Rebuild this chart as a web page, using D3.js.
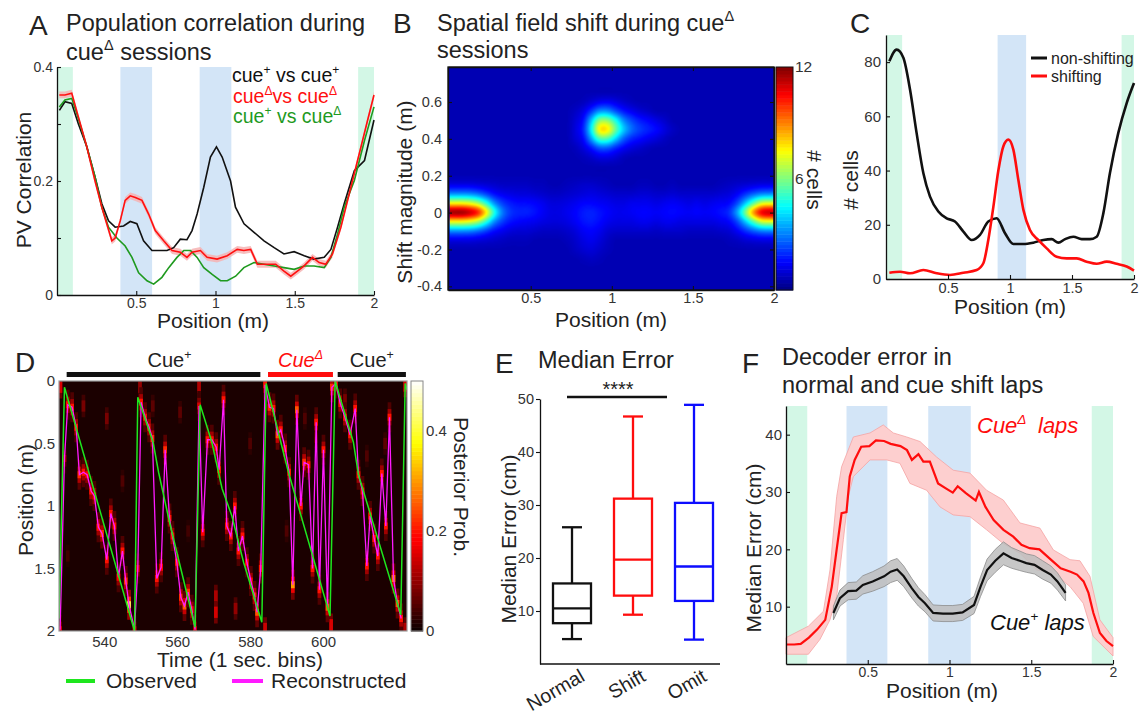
<!DOCTYPE html>
<html>
<head>
<meta charset="utf-8">
<title>Cue manipulation: place-cell remapping and decoding</title>
<script src="https://cdn.jsdelivr.net/npm/d3@7/dist/d3.min.js"></script>
<style>
  html, body { margin: 0; padding: 0; background: #fff; }
  svg { display: block; }
</style>
</head>
<body>
<svg id="fig" width="1139" height="715"></svg>
<script>
// ======================= DATA =======================

// Cue zones along the 2 m track (m)
const rewardZones = [[0, 0.1], [1.9, 2]];
const cueZones = [[0.4, 0.6], [0.9, 1.1]];

// A: population-vector correlation vs position
const pvTicks = [0, 0.1, 0.2, 0.3, 0.4];
const pvTickLabels = ["0", "", "0.2", "", "0.4"];
const pvSamePos = [0.015,0.05,0.093,0.135,0.188,0.24,0.283,0.325,0.367,0.42,0.462,0.504,0.546,0.599,0.652,0.694,0.736,0.778,0.82,0.852,0.884,0.926,0.968,1.006,1.042,1.095,1.126,1.18,1.243,1.306,1.37,1.432,1.496,1.56,1.62,1.686,1.728,1.77,1.812,1.876,1.94,2.0];
const pvSameVal = [0.324,0.339,0.336,0.30,0.26,0.207,0.16,0.13,0.119,0.121,0.129,0.125,0.095,0.078,0.078,0.078,0.083,0.098,0.097,0.113,0.142,0.189,0.242,0.26,0.242,0.2,0.154,0.125,0.11,0.095,0.083,0.072,0.076,0.069,0.063,0.066,0.08,0.119,0.16,0.218,0.236,0.307];
const pvDeltaPos = [0.0146,0.05,0.093,0.135,0.188,0.24,0.283,0.314,0.346,0.367,0.399,0.43,0.462,0.494,0.536,0.578,0.62,0.673,0.726,0.778,0.82,0.852,0.905,0.947,1.01,1.074,1.137,1.179,1.222,1.264,1.327,1.38,1.432,1.475,1.517,1.559,1.612,1.654,1.696,1.738,1.791,1.854,1.918,1.96,2.0];
const pvDeltaVal = [0.351,0.351,0.354,0.312,0.26,0.2,0.154,0.125,0.095,0.1,0.13,0.166,0.174,0.171,0.166,0.142,0.113,0.095,0.078,0.075,0.066,0.075,0.078,0.066,0.063,0.069,0.08,0.078,0.08,0.054,0.054,0.054,0.042,0.033,0.042,0.051,0.066,0.057,0.054,0.072,0.119,0.189,0.26,0.307,0.351];
const pvDeltaSem = 0.006;
const pvCrossPos = [0.0146,0.05,0.093,0.135,0.188,0.24,0.283,0.325,0.378,0.43,0.473,0.515,0.568,0.61,0.662,0.705,0.757,0.8,0.842,0.884,0.926,0.979,1.032,1.074,1.127,1.179,1.243,1.306,1.37,1.432,1.496,1.56,1.622,1.686,1.728,1.77,1.812,1.876,1.94,2.0];
const pvCrossVal = [0.33,0.342,0.345,0.309,0.26,0.207,0.154,0.119,0.1,0.086,0.066,0.039,0.025,0.019,0.031,0.048,0.066,0.078,0.078,0.066,0.048,0.036,0.025,0.025,0.033,0.048,0.057,0.054,0.051,0.048,0.045,0.051,0.051,0.048,0.066,0.107,0.154,0.201,0.271,0.33];

// B: spatial field shift histogram (# cells), 0.05 m position bins x 0.05 m shift bins
const shiftBinWidth = 0.05;
const shiftTicks = [-0.4, -0.2, 0, 0.2, 0.4, 0.6];
const shiftBackground = 0.6;
const shiftRowY = [0.6, 0.55, 0.5, 0.45, 0.4, 0.35, 0.3, 0.15, 0.1, 0.05, 0, -0.05, -0.1, -0.15, -0.2, -0.25];
const shiftCountRows = [
  [0.6,0.6,0.6,0.6,0.6,0.6,0.6,0.6,0.6,0.6,0.6,0.6,0.6,0.6,0.6,0.6,0.7,1.0,1.3,1.4,1.2,0.9,0.7,0.6,0.6,0.6,0.6,0.6,0.6,0.6,0.6,0.6,0.6,0.6,0.6,0.6,0.6,0.6,0.6,0.6],
  [0.6,0.6,0.6,0.6,0.6,0.6,0.6,0.6,0.6,0.6,0.6,0.6,0.6,0.6,0.6,0.8,1.2,2.1,3.2,3.2,2.4,1.7,1.3,1.0,0.8,0.6,0.6,0.6,0.6,0.6,0.6,0.6,0.6,0.6,0.6,0.6,0.6,0.6,0.6,0.6],
  [0.6,0.6,0.6,0.6,0.6,0.6,0.6,0.6,0.6,0.6,0.6,0.6,0.6,0.6,0.6,1.0,1.6,3.8,6.2,6.2,4.8,3.1,2.3,1.8,1.5,1.2,0.9,0.6,0.6,0.6,0.6,0.6,0.6,0.6,0.6,0.6,0.6,0.6,0.6,0.6],
  [0.6,0.6,0.6,0.6,0.6,0.6,0.6,0.6,0.6,0.6,0.6,0.6,0.6,0.6,0.6,1.1,1.9,4.5,7.9,7.9,5.8,3.9,2.8,2.2,1.9,1.6,1.2,0.8,0.6,0.6,0.6,0.6,0.6,0.6,0.6,0.6,0.6,0.6,0.6,0.6],
  [0.6,0.6,0.6,0.6,0.6,0.6,0.6,0.6,0.6,0.6,0.6,0.6,0.6,0.6,0.6,1.0,1.5,3.4,5.4,5.4,4.0,2.6,1.9,1.6,1.3,1.1,0.8,0.6,0.6,0.6,0.6,0.6,0.6,0.6,0.6,0.6,0.6,0.6,0.6,0.6],
  [0.6,0.6,0.6,0.6,0.6,0.6,0.6,0.6,0.6,0.6,0.6,0.6,0.6,0.6,0.6,0.7,1.1,1.7,2.5,2.5,1.9,1.4,1.1,0.9,0.7,0.6,0.6,0.6,0.6,0.6,0.6,0.6,0.6,0.6,0.6,0.6,0.6,0.6,0.6,0.6],
  [0.6,0.6,0.6,0.6,0.6,0.6,0.6,0.6,0.6,0.6,0.6,0.6,0.6,0.6,0.6,0.6,0.7,0.9,1.2,1.2,1.0,0.7,0.6,0.6,0.6,0.6,0.6,0.6,0.6,0.6,0.6,0.6,0.6,0.6,0.6,0.6,0.6,0.6,0.6,0.6],
  [1.2,1.2,1.2,1.1,1.0,0.9,0.8,0.8,0.8,0.8,0.7,0.7,0.6,0.6,0.7,0.8,0.9,0.9,0.8,0.7,0.6,0.6,0.6,0.7,0.7,0.6,0.6,0.7,0.6,0.6,0.6,0.6,0.6,0.7,0.8,0.9,1.0,1.1,1.2,1.2],
  [3.2,3.2,3.1,2.8,2.2,1.6,1.3,1.2,1.1,1.1,1.0,0.9,0.8,0.8,0.9,1.0,1.1,1.2,1.1,1.0,0.9,0.9,0.9,1.0,1.0,0.9,0.9,1.0,0.9,0.9,0.9,0.9,0.9,1.0,1.1,1.4,2.0,2.6,3.0,3.1],
  [7.5,7.5,7.2,6.5,5.0,3.2,2.2,1.8,1.6,1.6,1.5,1.3,1.1,1.1,1.2,1.3,1.5,1.5,1.4,1.3,1.2,1.2,1.3,1.3,1.3,1.2,1.3,1.4,1.3,1.2,1.3,1.2,1.3,1.4,1.5,2.3,3.8,5.5,7.0,7.2],
  [12,12,11.5,10.5,8,5,3,2.1,1.9,1.9,1.7,1.4,1.2,1.2,1.3,1.5,1.8,1.9,1.7,1.5,1.3,1.3,1.4,1.5,1.5,1.4,1.5,1.6,1.5,1.4,1.5,1.4,1.5,1.7,2.0,3.5,6,9,11,11.5],
  [7.5,7.5,7.2,6.5,5.0,3.2,2.2,1.7,1.5,1.4,1.3,1.2,1.1,1.1,1.2,1.4,1.7,1.8,1.6,1.3,1.2,1.2,1.2,1.3,1.3,1.2,1.3,1.3,1.2,1.2,1.2,1.2,1.2,1.3,1.5,2.3,3.8,5.5,7.0,7.2],
  [3.2,3.2,3.1,2.8,2.2,1.6,1.3,1.1,1.0,1.0,0.9,0.8,0.8,0.8,0.9,1.1,1.4,1.5,1.3,1.0,0.9,0.9,0.9,0.9,0.9,0.8,0.9,0.9,0.9,0.8,0.8,0.8,0.8,0.9,1.0,1.4,2.0,2.6,3.0,3.1],
  [1.2,1.2,1.2,1.1,1.0,0.9,0.8,0.7,0.7,0.7,0.6,0.6,0.6,0.6,0.7,0.9,1.2,1.3,1.1,0.8,0.6,0.6,0.6,0.6,0.6,0.6,0.6,0.6,0.6,0.6,0.6,0.6,0.6,0.6,0.7,0.8,1.0,1.1,1.2,1.2],
  [0.6,0.6,0.6,0.6,0.6,0.6,0.6,0.6,0.6,0.6,0.6,0.6,0.6,0.6,0.6,0.8,1.0,1.1,0.9,0.7,0.6,0.6,0.6,0.6,0.6,0.6,0.6,0.6,0.6,0.6,0.6,0.6,0.6,0.6,0.6,0.6,0.6,0.6,0.6,0.6],
  [0.6,0.6,0.6,0.6,0.6,0.6,0.6,0.6,0.6,0.6,0.6,0.6,0.6,0.6,0.6,0.6,0.7,0.8,0.7,0.6,0.6,0.6,0.6,0.6,0.6,0.6,0.6,0.6,0.6,0.6,0.6,0.6,0.6,0.6,0.6,0.6,0.6,0.6,0.6,0.6]
];

// C: place-field counts vs position
const cellNonShiftPos = [0.027,0.086,0.14,0.194,0.247,0.301,0.355,0.422,0.489,0.556,0.624,0.691,0.758,0.825,0.892,0.96,1.027,1.108,1.188,1.269,1.336,1.39,1.444,1.511,1.578,1.645,1.699,1.753,1.806,1.873,1.941,2.0];
const cellNonShift = [80.3,84.6,81.6,69.8,53.8,39.1,30.4,24.9,22.4,21.2,17.5,14.4,16.3,21.2,22.4,16.9,12.9,12.9,13.4,14.4,14.7,13.4,14.7,15.6,14.7,14.7,15.6,24.3,39.1,53.8,64.9,72.3];
const cellShiftPos = [0.027,0.113,0.194,0.301,0.409,0.516,0.624,0.731,0.785,0.825,0.866,0.906,0.946,0.987,1.027,1.067,1.108,1.161,1.228,1.296,1.376,1.457,1.538,1.618,1.699,1.78,1.86,1.941,2.0];
const cellShift = [2.3,2.7,2.1,3.3,2.1,1.5,2.3,3.3,5.8,14.4,26.7,40,48.9,51.4,47.7,36.6,25.5,18.1,14.4,11.3,8.2,7.6,7.6,6.4,5.6,6.4,5.6,4.6,3.1];
const cellZonesReward = [[0, 0.13], [1.9, 2]];
const cellZonesCue = [[0.9, 1.13]];

// D: decoded position over time
const decodeTimeTicks = [540, 560, 580, 600];
const blockStart = [529.7, 584.9, 604.0];
const blockEnd = [582.8, 602.7, 622.7];
const blockKind = ["plus", "delta", "plus"];
const obsT = [527.6,529.1,548.3,549.2,553.4,554.9,557.9,564.9,566.3,569.5,572.3,575.0,578.2,583.2,584.4,589.1,590.5,601.9,603.3,608.3,609.7,621.3,622.5,623.0];
const obsPos = [1.9,0.05,2.0,0.13,0.49,0.73,1.13,1.97,0.19,0.49,0.86,1.08,1.45,1.93,0.02,0.57,0.73,1.88,0.0,0.49,0.75,1.87,0.02,0.07];
const reconT = [527.9,529.1,530.0,531.2,532.3,533.2,534.3,535.3,536.4,537.3,538.4,539.4,540.7,541.8,542.8,543.9,545.0,545.9,546.8,548.3,549.2,550.1,551.2,552.3,553.2,554.4,555.6,556.7,557.9,558.7,559.9,561.0,562.0,563.0,564.0,564.9,566.0,567.0,568.3,569.5,570.7,571.5,572.7,573.6,574.7,575.8,576.8,577.9,579.1,580.2,581.2,581.9,582.9,584.1,585.3,586.4,587.5,588.4,589.6,590.7,591.7,592.8,593.9,594.8,596.0,597.1,598.1,599.0,600.1,601.2,602.4,603.5,604.7,606.0,607.4,608.8,609.7,610.8,612.0,612.9,614.0,615.0,616.1,617.2,618.2,619.3,620.4,621.4];
const reconPos = [1.99,0.62,0.19,0.21,0.37,0.75,0.73,0.75,0.88,0.92,1.17,1.22,1.43,1.06,1.16,1.57,1.36,1.60,1.79,1.99,1.5,0.17,0.29,0.37,0.46,1.58,1.49,0.55,1.10,1.24,1.45,1.73,1.80,1.69,1.83,1.99,0.2,1.21,0.47,0.47,0.53,0.71,0.15,1.16,1.24,1.0,1.36,1.24,1.45,1.6,1.72,1.85,1.5,0.03,0.21,0.22,0.43,0.39,0.54,0.73,1.63,0.23,1.0,0.65,0.67,1.5,0.33,1.67,0.55,1.81,0.05,0.02,0.18,0.29,0.43,0.22,0.75,0.88,1.48,1.08,1.26,1.40,0.74,1.16,0.29,1.58,1.78,1.9];
const reconProb = [0.15,0.12,0.2,0.2,0.2,0.22,0.2,0.18,0.2,0.18,0.2,0.22,0.2,0.2,0.2,0.18,0.2,0.22,0.42,0.15,0.15,0.2,0.2,0.2,0.22,0.2,0.18,0.22,0.2,0.2,0.2,0.22,0.25,0.22,0.2,0.15,0.15,0.18,0.2,0.2,0.2,0.2,0.2,0.2,0.2,0.2,0.2,0.2,0.18,0.2,0.22,0.25,0.2,0.2,0.22,0.2,0.25,0.2,0.2,0.2,0.3,0.25,0.2,0.22,0.2,0.2,0.2,0.2,0.2,0.25,0.22,0.2,0.2,0.2,0.2,0.2,0.2,0.2,0.2,0.2,0.2,0.2,0.2,0.2,0.2,0.28,0.25,0.2];
const faintT = [528,534.3,540.7,549.8,553.3,560.8,566,570.6,570.6,576,584.1,602.2,598,606,612,617,545,580,590,622.5,622.5,530,563,595];
const faintPos = [0.05,0.2,0.3,0.05,0.2,0.25,0.05,1.72,1.85,1.82,1.98,1.95,0.45,0.15,0.6,0.5,0.8,0.5,1.2,0.04,1.98,1.4,1.2,0.3];
const faintProb = [0.15,0.08,0.08,0.1,0.06,0.06,0.12,0.12,0.15,0.1,0.14,0.15,0.06,0.08,0.05,0.06,0.05,0.05,0.05,0.15,0.12,0.04,0.04,0.05];

// E: median decoding error per lap type (cm)
const errGroups = ["Normal", "Shift", "Omit"];
const errWhiskerLow = [4.7, 9.3, 4.6];
const errQ1 = [7.7, 12.9, 11.9];
const errMedian = [10.5, 19.7, 18.4];
const errQ3 = [15.2, 31.2, 30.4];
const errWhiskerHigh = [25.8, 46.7, 48.9];

// F: decoder error along the track (cm)
const decZonesReward = [[0, 0.13], [1.87, 2]];
const decZonesCue = [[0.37, 0.62], [0.87, 1.13]];
const decDeltaPos = [0,0.05,0.09,0.14,0.19,0.24,0.28,0.31,0.34,0.37,0.39,0.42,0.46,0.51,0.55,0.6,0.64,0.7,0.74,0.77,0.81,0.84,0.88,0.93,0.98,1.02,1.05,1.1,1.16,1.18,1.22,1.27,1.33,1.39,1.44,1.49,1.55,1.62,1.68,1.74,1.78,1.82,1.85,1.88,1.92,1.96,2.0];
const decDeltaErr = [3.4,3.4,3.5,4.6,6.0,7.7,13.5,20,26.3,26.5,32.7,35.6,37.9,38,39,38.9,38.4,38,37.3,35.6,36.6,35.3,35.3,31.5,30.6,29.9,31,29.8,28.5,30,27.4,25.1,23.4,22.2,20.8,20.2,20,18.2,16.7,16.1,15.6,14.4,12.4,8.9,5.4,4.0,3.1];
const decDeltaHiPos = [0,0.137,0.229,0.269,0.31,0.34,0.412,0.514,0.595,0.656,0.738,0.82,0.921,1.023,1.125,1.227,1.329,1.431,1.553,1.635,1.737,1.798,1.859,1.92,2.0];
const decDeltaHi = [4.6,6.6,9.2,16.4,29.2,34.4,39.6,40.3,41.7,40.3,39.6,38.8,36.1,33.8,33.3,30.3,28.6,24.6,23.7,19.9,18.2,18,15.3,7.7,4.6];
const decDeltaLoPos = [0,0.137,0.208,0.269,0.31,0.351,0.381,0.412,0.514,0.616,0.697,0.758,0.86,0.942,1.023,1.125,1.227,1.329,1.431,1.533,1.635,1.737,1.818,1.879,2.0];
const decDeltaLo = [1.7,1.7,4.3,7.7,11.8,21.7,29.2,32.7,35.6,35.6,35,31.5,30.3,27.4,26,25.7,23.4,21,19.3,16.4,15.9,13.5,10.6,4.8,1.4];
const decPlusPos = [0.29,0.33,0.38,0.43,0.47,0.53,0.6,0.64,0.68,0.72,0.77,0.81,0.85,0.9,0.96,1.02,1.08,1.15,1.19,1.23,1.28,1.33,1.38,1.43,1.47,1.52,1.57,1.62,1.66,1.71];
const decPlusErr = [8.9,11.5,12.7,12.8,13.8,14.4,15.3,16.1,16.5,15.3,13.2,11.7,10.6,8.9,8.8,8.8,9.0,10.3,13.5,16.4,18.0,19.3,18.5,18.0,17.6,17.3,16.4,15.6,14.4,12.4];
const decPlusSem = [1.2,1.4,1.5,1.5,1.6,1.7,1.8,1.9,1.9,1.8,1.7,1.6,1.5,1.4,1.4,1.4,1.4,1.5,1.7,1.9,2.0,2.0,1.8,1.7,1.6,1.6,1.6,1.5,1.5,1.4];

// ======================= DRAWING =======================
const FONT = "'Liberation Sans', Arial, Helvetica, sans-serif";
const INK = "#222";
const TICK_INK = "#333";
const GREEN_ZONE = "#d3f7e6";
const BLUE_ZONE = "#d3e5f7";
const svg = d3.select("#fig").attr("font-family", FONT);
const defs = svg.append("defs");

function clamp01(v) { return Math.max(0, Math.min(1, v)); }
function jet(t) {
  t = clamp01(t);
  return d3.rgb(255 * clamp01(1.5 - Math.abs(4 * t - 3)),
                255 * clamp01(1.5 - Math.abs(4 * t - 2)),
                255 * clamp01(1.5 - Math.abs(4 * t - 1)));
}
function hot(t) {
  t = clamp01(t);
  return d3.rgb(255 * clamp01((t + 0.016) / 0.375),
                255 * clamp01((t - 0.375) / 0.375),
                255 * clamp01((t - 0.75) / 0.25));
}

// text with raised (superscript) pieces: strings are normal, {sup: "..."} is raised
function richText(parent, x, y, segs, opt = {}) {
  const fs = opt.size || 20;
  const t = parent.append("text").attr("x", x).attr("y", y)
    .attr("font-size", fs).attr("fill", opt.fill || INK)
    .attr("text-anchor", opt.anchor || "start");
  if (opt.italic) t.attr("font-style", "italic");
  if (opt.transform) t.attr("transform", opt.transform);
  let raised = false;
  segs.forEach(s => {
    const isSup = typeof s === "object";
    const ts = t.append("tspan").text(isSup ? s.sup : s);
    if (isSup) {
      ts.attr("font-size", fs * 0.62);
      if (!raised) { ts.attr("dy", -fs * 0.42); raised = true; }
    } else if (raised) {
      ts.attr("dy", fs * 0.42); raised = false;
    }
  });
  return t;
}

function plainText(parent, x, y, str, size, opt = {}) {
  const t = parent.append("text").attr("x", x).attr("y", y).attr("font-size", size)
    .attr("fill", opt.fill || INK).attr("text-anchor", opt.anchor || "start").text(str);
  if (opt.transform) t.attr("transform", opt.transform);
  if (opt.italic) t.attr("font-style", "italic");
  return t;
}

function addAxis(parent, axis, tx, ty, fs) {
  const a = parent.append("g").attr("transform", `translate(${tx},${ty})`).call(axis);
  a.attr("font-family", FONT).attr("font-size", fs || 14.5);
  a.select(".domain").attr("stroke", "#111").attr("stroke-width", 1.3);
  a.selectAll(".tick line").attr("stroke", "#111").attr("stroke-width", 1.1);
  a.selectAll(".tick text").attr("fill", TICK_INK);
  return a;
}

function zoneRects(parent, x, yTop, yBot, list, color) {
  parent.selectAll(null).data(list).join("rect")
    .attr("x", d => x(d[0])).attr("width", d => x(d[1]) - x(d[0]))
    .attr("y", yTop).attr("height", yBot - yTop).attr("fill", color);
}

function clipRect(id, x, y, w, h) {
  defs.append("clipPath").attr("id", id).append("rect")
    .attr("x", x).attr("y", y).attr("width", w).attr("height", h);
}

const numFmt = d => String(d);

// ---------------- Panel A ----------------
{
  const g = svg.append("g");
  const x = d3.scaleLinear([0, 2], [57, 374]);
  const y = d3.scaleLinear([0, 0.4], [295, 67]);
  zoneRects(g, x, 67, 295, rewardZones, GREEN_ZONE);
  zoneRects(g, x, 67, 295, cueZones, BLUE_ZONE);

  const band = d3.area().x(d => x(d[0])).y0(d => y(d[1] - pvDeltaSem)).y1(d => y(d[1] + pvDeltaSem));
  g.append("path").datum(d3.zip(pvDeltaPos, pvDeltaVal)).attr("d", band)
    .attr("fill", "#f6b3b3").attr("opacity", 0.85);
  const line = d3.line().x(d => x(d[0])).y(d => y(d[1]));
  g.append("path").datum(d3.zip(pvSamePos, pvSameVal)).attr("d", line)
    .attr("fill", "none").attr("stroke", "#111").attr("stroke-width", 1.6);
  g.append("path").datum(d3.zip(pvCrossPos, pvCrossVal)).attr("d", line)
    .attr("fill", "none").attr("stroke", "#1f9a1f").attr("stroke-width", 1.6);
  g.append("path").datum(d3.zip(pvDeltaPos, pvDeltaVal)).attr("d", line)
    .attr("fill", "none").attr("stroke", "#ff1010").attr("stroke-width", 1.6);

  addAxis(g, d3.axisLeft(y).tickValues(pvTicks).tickFormat((d, i) => pvTickLabels[i])
    .tickSizeInner(-4).tickSizeOuter(0).tickPadding(4), 57, 0, 14);
  addAxis(g, d3.axisBottom(x).tickValues([0.5, 1, 1.5, 2]).tickFormat(numFmt)
    .tickSizeInner(-4).tickSizeOuter(0).tickPadding(3), 0, 295, 14);

  plainText(g, 29, 35, "A", 28);
  plainText(g, 66, 31, "Population correlation during", 23.5);
  richText(g, 66, 59.5, ["cue", { sup: "\u0394" }, " sessions"], { size: 23.5 });
  richText(g, 232, 82, ["cue", { sup: "+" }, " vs cue", { sup: "+" }], { size: 19.5, fill: "#111" });
  richText(g, 233, 103, ["cue", { sup: "\u0394" }, "vs cue", { sup: "\u0394" }], { size: 19.5, fill: "#ff1010" });
  richText(g, 233, 123, ["cue", { sup: "+" }, " vs cue", { sup: "\u0394" }], { size: 19.5, fill: "#1f9a1f" });
  plainText(g, 0, 0, "PV Correlation", 21, { anchor: "middle", transform: "translate(31,180) rotate(-90)" });
  plainText(g, 213, 328, "Position (m)", 21, { anchor: "middle" });
}

// ---------------- Panel B ----------------
{
  const g = svg.append("g");
  const L = 448, R = 774, T = 67, B = 290;
  const x = d3.scaleLinear([-0.01, 2], [L, R]);
  const y = d3.scaleLinear([-0.42, 0.79], [B, T]);
  const cmax = 12;
  clipRect("clipB", L, T, R - L, B - T);
  g.append("rect").attr("x", L).attr("y", T).attr("width", R - L).attr("height", B - T)
    .attr("fill", jet(shiftBackground / cmax));

  // value grid -> small canvas -> smooth upscale -> jet colour map
  const nCols = shiftCountRows[0].length;
  const gridTop = 0.8, nRows = 25;
  const small = document.createElement("canvas");
  small.width = nCols; small.height = nRows;
  const sctx = small.getContext("2d");
  const sImg = sctx.createImageData(nCols, nRows);
  for (let r = 0; r < nRows; r++) {
    const yv = gridTop - r * shiftBinWidth;
    const idx = shiftRowY.findIndex(v => Math.abs(v - yv) < 1e-6);
    for (let c = 0; c < nCols; c++) {
      const v = idx >= 0 ? shiftCountRows[idx][c] : shiftBackground;
      const k = (r * nCols + c) * 4;
      const gv = Math.round(255 * clamp01(v / cmax));
      sImg.data[k] = gv; sImg.data[k + 1] = gv; sImg.data[k + 2] = gv; sImg.data[k + 3] = 255;
    }
  }
  sctx.putImageData(sImg, 0, 0);
  const x0 = x(0), x1 = x(nCols * shiftBinWidth);
  const yTop = y(gridTop + shiftBinWidth / 2), yBot = y(gridTop - (nRows - 0.5) * shiftBinWidth);
  const W = Math.round(x1 - x0), H = Math.round(yBot - yTop);
  const big = document.createElement("canvas");
  big.width = W; big.height = H;
  const bctx = big.getContext("2d");
  bctx.imageSmoothingEnabled = true;
  bctx.imageSmoothingQuality = "high";
  bctx.drawImage(small, 0, 0, W, H);
  const bImg = bctx.getImageData(0, 0, W, H);
  for (let k = 0; k < bImg.data.length; k += 4) {
    const c = jet(bImg.data[k] / 255);
    bImg.data[k] = c.r; bImg.data[k + 1] = c.g; bImg.data[k + 2] = c.b; bImg.data[k + 3] = 255;
  }
  bctx.putImageData(bImg, 0, 0);
  g.append("image").attr("href", big.toDataURL()).attr("x", x0).attr("y", yTop)
    .attr("width", W).attr("height", H).attr("preserveAspectRatio", "none")
    .attr("clip-path", "url(#clipB)");

  g.append("rect").attr("x", L).attr("y", T).attr("width", R - L).attr("height", B - T)
    .attr("fill", "none").attr("stroke", "#111").attr("stroke-width", 1.3);
  addAxis(g, d3.axisLeft(y).tickValues(shiftTicks).tickFormat(numFmt)
    .tickSizeInner(-4).tickSizeOuter(0).tickPadding(6), L, 0, 14.5);
  addAxis(g, d3.axisBottom(x).tickValues([0.5, 1, 1.5, 2]).tickFormat(numFmt)
    .tickSizeInner(-4).tickSizeOuter(0).tickPadding(3), 0, B, 14.5);
  addAxis(g, d3.axisTop(x).tickValues([0.5, 1, 1.5, 2]).tickFormat("")
    .tickSizeInner(-4).tickSizeOuter(0), 0, T);
  addAxis(g, d3.axisRight(y).tickValues(shiftTicks).tickFormat("")
    .tickSizeInner(-4).tickSizeOuter(0), R, 0);

  // colour bar
  const cb = d3.scaleLinear([0, cmax], [B, T]);
  const steps = d3.range(64);
  g.selectAll(null).data(steps).join("rect")
    .attr("x", 776).attr("width", 17)
    .attr("y", d => cb((d + 1) * cmax / 64)).attr("height", d => cb(d * cmax / 64) - cb((d + 1) * cmax / 64) + 0.5)
    .attr("fill", d => jet((d + 0.5) / 64));
  g.append("rect").attr("x", 776).attr("y", T).attr("width", 17).attr("height", B - T)
    .attr("fill", "none").attr("stroke", "#111").attr("stroke-width", 1);
  const cbAxis = addAxis(g, d3.axisRight(cb).tickValues([6, 12]).tickFormat(numFmt)
    .tickSizeInner(0).tickSizeOuter(0).tickPadding(2), 793, 0, 15.5);
  cbAxis.select(".domain").remove();

  plainText(g, 393, 33, "B", 28);
  richText(g, 437, 31, ["Spatial field shift during cue", { sup: "\u0394" }], { size: 23.5 });
  plainText(g, 437, 57.5, "sessions", 23.5);
  plainText(g, 0, 0, "Shift magnitude (m)", 21, { anchor: "middle", transform: "translate(412,192) rotate(-90)" });
  plainText(g, 0, 0, "# cells", 21, { anchor: "middle", transform: "translate(807,180) rotate(90)" });
  plainText(g, 611, 327, "Position (m)", 21, { anchor: "middle" });
}

// ---------------- Panel C ----------------
{
  const g = svg.append("g");
  const x = d3.scaleLinear([0, 2], [886, 1134]);
  const y = d3.scaleLinear([0, 90], [279, 35]);
  zoneRects(g, x, 35, 279, cellZonesReward, GREEN_ZONE);
  zoneRects(g, x, 35, 279, cellZonesCue, BLUE_ZONE);
  const line = d3.line().x(d => x(d[0])).y(d => y(d[1])).curve(d3.curveMonotoneX);
  g.append("path").datum(d3.zip(cellNonShiftPos, cellNonShift)).attr("d", line)
    .attr("fill", "none").attr("stroke", "#111").attr("stroke-width", 2.6);
  g.append("path").datum(d3.zip(cellShiftPos, cellShift)).attr("d", line)
    .attr("fill", "none").attr("stroke", "#ff0d0d").attr("stroke-width", 2.6);
  addAxis(g, d3.axisLeft(y).tickValues([0, 20, 40, 60, 80]).tickFormat(numFmt)
    .tickSizeInner(-4).tickSizeOuter(0).tickPadding(5), 886, 0, 15);
  addAxis(g, d3.axisBottom(x).tickValues([0.5, 1, 1.5, 2]).tickFormat(numFmt)
    .tickSizeInner(-4).tickSizeOuter(0).tickPadding(4), 0, 279, 14.5);

  g.append("line").attr("x1", 1031).attr("x2", 1047).attr("y1", 58).attr("y2", 58)
    .attr("stroke", "#111").attr("stroke-width", 3);
  g.append("line").attr("x1", 1031).attr("x2", 1047).attr("y1", 76).attr("y2", 76)
    .attr("stroke", "#ff0d0d").attr("stroke-width", 3);
  plainText(g, 1051, 63.5, "non-shifting", 16);
  plainText(g, 1051, 81.5, "shifting", 16);

  plainText(g, 850, 33, "C", 28);
  plainText(g, 0, 0, "# cells", 21, { anchor: "middle", transform: "translate(858,180) rotate(-90)" });
  plainText(g, 1010, 314, "Position (m)", 21, { anchor: "middle" });
}

// ---------------- Panel D ----------------
{
  const g = svg.append("g");
  const L = 59, R = 407, T = 381, B = 631;
  const x = d3.scaleLinear([527.6, 623], [L, R]);
  const y = d3.scaleLinear([0, 2], [T, B]);
  const pmax = 0.5;
  clipRect("clipD", L, T, R - L, B - T);
  g.append("rect").attr("x", L).attr("y", T).attr("width", R - L).attr("height", B - T)
    .attr("fill", hot(0.012 / pmax));

  // posterior probability columns, one second wide
  const post = g.append("g").attr("clip-path", "url(#clipD)");
  const bw = x(1) - x(0);
  const layers = [[0.12, 0.25], [0.065, 0.55], [0.028, 1]];
  const drawCell = (t, p, prob, lay) => {
    lay.forEach(([half, k]) => {
      post.append("rect").attr("x", x(t) - bw / 2).attr("width", bw)
        .attr("y", y(p - half)).attr("height", y(p + half) - y(p - half))
        .attr("fill", hot(prob * k / pmax));
    });
  };
  faintT.forEach((t, i) => drawCell(t, faintPos[i], faintProb[i], [[0.09, 0.5], [0.045, 1]]));
  reconT.forEach((t, i) => drawCell(t, reconPos[i], reconProb[i], layers));

  const line = d3.line().x(d => x(d[0])).y(d => y(d[1]));
  post.append("path").datum(d3.zip(reconT, reconPos)).attr("d", line)
    .attr("fill", "none").attr("stroke", "#ff1aff").attr("stroke-width", 1.3);
  post.append("path").datum(d3.zip(obsT, obsPos)).attr("d", line)
    .attr("fill", "none").attr("stroke", "#1ee61e").attr("stroke-width", 1.5);

  g.append("rect").attr("x", L).attr("y", T).attr("width", R - L).attr("height", B - T)
    .attr("fill", "none").attr("stroke", "#9a9a9a").attr("stroke-width", 1.2);
  const ya = addAxis(g, d3.axisLeft(y).tickValues([0, 0.5, 1, 1.5, 2]).tickFormat(numFmt)
    .tickSizeInner(0).tickSizeOuter(0).tickPadding(4), L, 0, 15);
  ya.select(".domain").remove();
  const xa = addAxis(g, d3.axisBottom(x).tickValues(decodeTimeTicks).tickFormat(numFmt)
    .tickSizeInner(0).tickSizeOuter(0).tickPadding(5), 0, B, 15);
  xa.select(".domain").remove();

  // session blocks above the raster
  blockStart.forEach((s, i) => {
    const col = blockKind[i] === "delta" ? "#ff0d0d" : "#111";
    g.append("rect").attr("x", x(s)).attr("width", x(blockEnd[i]) - x(s))
      .attr("y", 372).attr("height", 5).attr("fill", col);
    const cx = (x(s) + x(blockEnd[i])) / 2;
    if (blockKind[i] === "delta") {
      richText(g, cx, 367, ["Cue", { sup: "\u0394" }], { size: 20, fill: "#ff0d0d", anchor: "middle", italic: true });
    } else {
      richText(g, cx + (i === 0 ? 6 : 0), 367, ["Cue", { sup: "+" }], { size: 20, anchor: "middle" });
    }
  });

  // colour bar
  const cb = d3.scaleLinear([0, pmax], [B, T]);
  g.selectAll(null).data(d3.range(64)).join("rect")
    .attr("x", 411).attr("width", 12)
    .attr("y", d => cb((d + 1) * pmax / 64)).attr("height", d => cb(d * pmax / 64) - cb((d + 1) * pmax / 64) + 0.5)
    .attr("fill", d => hot((d + 0.5) / 64));
  g.append("rect").attr("x", 411).attr("y", T).attr("width", 12).attr("height", B - T)
    .attr("fill", "none").attr("stroke", "#888").attr("stroke-width", 1);
  const cba = addAxis(g, d3.axisRight(cb).tickValues([0, 0.2, 0.4]).tickFormat(numFmt)
    .tickSizeInner(0).tickSizeOuter(0).tickPadding(3), 423, 0, 15);
  cba.select(".domain").remove();

  plainText(g, 15, 372, "D", 28);
  plainText(g, 0, 0, "Posterior Prob.", 21, { anchor: "middle", transform: "translate(454,487) rotate(90)" });
  plainText(g, 0, 0, "Position (m)", 21, { anchor: "middle", transform: "translate(33,500) rotate(-90)" });
  plainText(g, 240, 667, "Time (1 sec. bins)", 21, { anchor: "middle" });

  g.append("rect").attr("x", 66).attr("y", 679).attr("width", 29).attr("height", 4).attr("fill", "#1ee61e");
  plainText(g, 106, 688, "Observed", 21);
  g.append("rect").attr("x", 232).attr("y", 679).attr("width", 31).attr("height", 4).attr("fill", "#ff1aff");
  plainText(g, 271, 688, "Reconstructed", 21);
}

// ---------------- Panel E ----------------
{
  const g = svg.append("g");
  const x = d3.scalePoint(errGroups, [572, 694]);
  const y = d3.scaleLinear([0, 50], [664, 399]);
  const colors = ["#111", "#ff0d0d", "#0d0dff"];
  const boxW = 38, capW = 20;
  errGroups.forEach((grp, i) => {
    const cx = x(grp), c = colors[i];
    const gg = g.append("g").attr("stroke", c).attr("stroke-width", 2.3).attr("fill", "none");
    gg.append("line").attr("x1", cx).attr("x2", cx).attr("y1", y(errWhiskerHigh[i])).attr("y2", y(errQ3[i]));
    gg.append("line").attr("x1", cx).attr("x2", cx).attr("y1", y(errQ1[i])).attr("y2", y(errWhiskerLow[i]));
    gg.append("line").attr("x1", cx - capW / 2).attr("x2", cx + capW / 2).attr("y1", y(errWhiskerHigh[i])).attr("y2", y(errWhiskerHigh[i]));
    gg.append("line").attr("x1", cx - capW / 2).attr("x2", cx + capW / 2).attr("y1", y(errWhiskerLow[i])).attr("y2", y(errWhiskerLow[i]));
    gg.append("rect").attr("x", cx - boxW / 2).attr("width", boxW)
      .attr("y", y(errQ3[i])).attr("height", y(errQ1[i]) - y(errQ3[i]));
    gg.append("line").attr("x1", cx - boxW / 2).attr("x2", cx + boxW / 2).attr("y1", y(errMedian[i])).attr("y2", y(errMedian[i]));
    plainText(g, 0, 0, grp, 19.5, { anchor: "end", transform: `translate(${cx + 14},680) rotate(-30)` });
  });
  addAxis(g, d3.axisLeft(y).tickValues([10, 20, 30, 40, 50]).tickFormat(numFmt)
    .tickSizeInner(4).tickSizeOuter(0).tickPadding(2), 540, 0, 14.5);
  g.append("line").attr("x1", 540).attr("x2", 720).attr("y1", 664).attr("y2", 664)
    .attr("stroke", "#111").attr("stroke-width", 1.3);

  // significance bar between Normal and Shift
  g.append("line").attr("x1", 567).attr("x2", 667).attr("y1", 397).attr("y2", 397)
    .attr("stroke", "#111").attr("stroke-width", 2.6);
  plainText(g, 618, 396, "****", 20, { anchor: "middle" });

  plainText(g, 495, 373, "E", 28);
  plainText(g, 538, 368, "Median Error", 23.5);
  plainText(g, 0, 0, "Median Error (cm)", 21, { anchor: "middle", transform: "translate(516,539) rotate(-90)" });
}

// ---------------- Panel F ----------------
{
  const g = svg.append("g");
  const x = d3.scaleLinear([0, 2], [786, 1113]);
  const y = d3.scaleLinear([0, 45], [664, 406]);
  zoneRects(g, x, 406, 664, decZonesReward, GREEN_ZONE);
  zoneRects(g, x, 406, 664, decZonesCue, BLUE_ZONE);

  const hi = d3.zip(decDeltaHiPos, decDeltaHi);
  const lo = d3.zip(decDeltaLoPos, decDeltaLo).reverse();
  const ring = d3.line().x(d => x(d[0])).y(d => y(d[1]));
  g.append("path").attr("d", ring(hi.concat(lo)) + "Z")
    .attr("fill", "#fdcfcf").attr("stroke", "#f5a3a3").attr("stroke-width", 0.8);
  const plusBand = d3.area().x(d => x(d[0])).y0(d => y(d[1] - d[2])).y1(d => y(d[1] + d[2]));
  g.append("path").datum(d3.zip(decPlusPos, decPlusErr, decPlusSem)).attr("d", plusBand)
    .attr("fill", "#bdbdbd").attr("fill-opacity", 0.85).attr("stroke", "#8c8c8c").attr("stroke-width", 0.8);
  const line = d3.line().x(d => x(d[0])).y(d => y(d[1]));
  g.append("path").datum(d3.zip(decDeltaPos, decDeltaErr)).attr("d", line)
    .attr("fill", "none").attr("stroke", "#ff0d0d").attr("stroke-width", 2.2);
  g.append("path").datum(d3.zip(decPlusPos, decPlusErr)).attr("d", line)
    .attr("fill", "none").attr("stroke", "#111").attr("stroke-width", 2.2);

  addAxis(g, d3.axisLeft(y).tickValues([10, 20, 30, 40]).tickFormat(numFmt)
    .tickSizeInner(-4).tickSizeOuter(0).tickPadding(4), 786, 0, 15);
  addAxis(g, d3.axisBottom(x).tickValues([0.5, 1, 1.5, 2]).tickFormat(numFmt)
    .tickSizeInner(-4).tickSizeOuter(0).tickPadding(3), 0, 664, 14);

  richText(g, 977, 433, ["Cue", { sup: "\u0394" }], { size: 22, fill: "#ff0d0d", italic: true });
  plainText(g, 1038, 433, "laps", 22, { fill: "#ff0d0d", italic: true });
  richText(g, 990, 630, ["Cue", { sup: "+" }, " laps"], { size: 22, italic: true, fill: "#111" });

  plainText(g, 742, 373, "F", 28);
  plainText(g, 782, 365, "Decoder error in", 23.5);
  plainText(g, 782, 393, "normal and cue shift laps", 23.5);
  plainText(g, 0, 0, "Median Error (cm)", 21, { anchor: "middle", transform: "translate(761,548) rotate(-90)" });
  plainText(g, 942, 698, "Position (m)", 21, { anchor: "middle" });
}
</script>
</body>
</html>
